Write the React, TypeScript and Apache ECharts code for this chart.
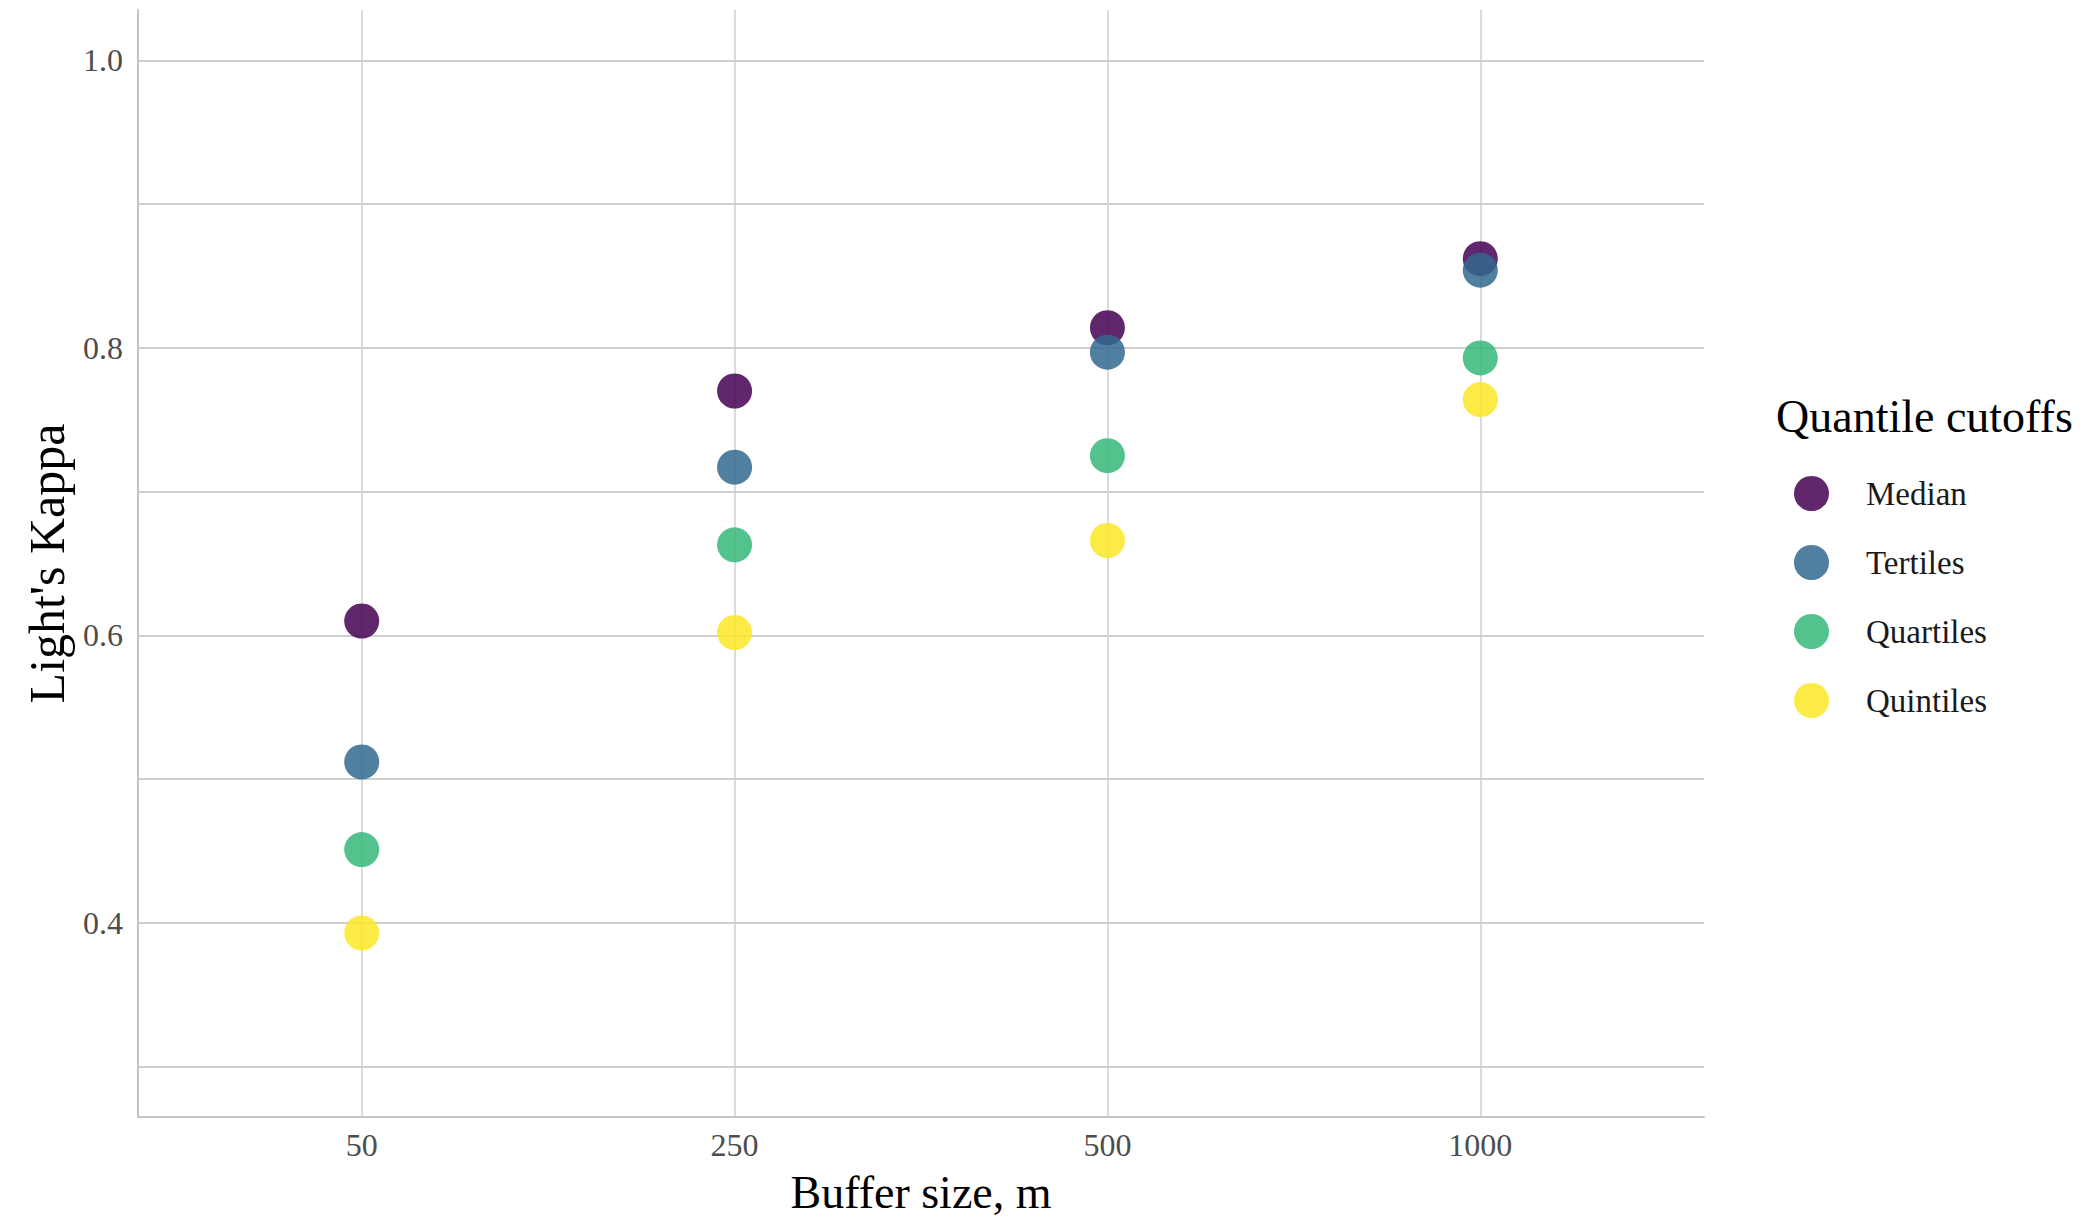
import React, { useEffect, useRef } from "react";
import * as echarts from "echarts";

const categories = ["50", "250", "500", "1000"];
const seriesNames = ["Median", "Tertiles", "Quartiles", "Quintiles"];
const median = [0.61, 0.77, 0.814, 0.862];
const tertiles = [0.512, 0.717, 0.797, 0.854];
const quartiles = [0.451, 0.663, 0.725, 0.793];
const quintiles = [0.393, 0.602, 0.666, 0.764];
const colors = ["#440154", "#31688E", "#35B779", "#FDE725"];
const yLabelValues = [0.4, 0.6, 0.8, 1.0];
const yGridValues = [0.3, 0.4, 0.5, 0.6, 0.7, 0.8, 0.9, 1.0];
const xTickValues = [0, 1, 2, 3];

const FONT = "Liberation Serif";

export default function App() {
  const ref = useRef<HTMLDivElement>(null);
  useEffect(() => {
    if (!ref.current) return;
    const chart = echarts.init(ref.current, null, { renderer: "svg" });
    const allData = [median, tertiles, quartiles, quintiles];
    chart.setOption({
      animation: false,
      backgroundColor: "#ffffff",
      textStyle: { fontFamily: FONT },
      title: {
        text: "Quantile cutoffs",
        left: 1771,
        top: 388,
        textStyle: { fontFamily: FONT, fontSize: 46, fontWeight: "normal", color: "#000000" },
      },
      legend: {
        orient: "vertical",
        left: 1789,
        top: 471,
        itemWidth: 35,
        itemHeight: 35,
        itemGap: 34,
        icon: "circle",
        data: seriesNames,
        textStyle: { fontFamily: FONT, fontSize: 33, color: "#1a1a1a", padding: [0, 0, 0, 32] },
      },
      grid: { left: 138, right: 396, top: 10, bottom: 108, containLabel: false },
      xAxis: {
        type: "value",
        min: -0.6,
        max: 3.6,
        name: "Buffer size, m",
        nameLocation: "middle",
        nameGap: 52,
        nameTextStyle: { fontFamily: FONT, fontSize: 46, color: "#000000" },
        axisLine: { show: true, onZero: false, lineStyle: { color: "#c4c4c4", width: 2 } },
        axisTick: { show: false, customValues: xTickValues },
        axisLabel: {
          customValues: xTickValues,
          formatter: (v: number) => categories[Math.round(v)] ?? "",
          fontFamily: FONT,
          fontSize: 32,
          color: "#4d4d4d",
          margin: 12,
        },
        splitLine: { show: true, lineStyle: { color: "#cfcfcf", width: 1.5 } },
      },
      yAxis: {
        type: "value",
        min: 0.265,
        max: 1.035,
        name: "Light's Kappa",
        nameLocation: "middle",
        nameGap: 60,
        nameTextStyle: { fontFamily: FONT, fontSize: 50, color: "#000000" },
        axisLine: { show: true, onZero: false, lineStyle: { color: "#c4c4c4", width: 2 } },
        axisTick: { show: false, customValues: yGridValues },
        axisLabel: {
          customValues: yLabelValues,
          formatter: (v: number) => v.toFixed(1),
          fontFamily: FONT,
          fontSize: 32,
          color: "#4d4d4d",
          margin: 15,
        },
        splitLine: { show: true, lineStyle: { color: "#cfcfcf", width: 2 } },
      },
      series: seriesNames.map((name, si) => ({
        name,
        type: "scatter",
        symbol: "circle",
        symbolSize: 35,
        itemStyle: { color: colors[si], opacity: 0.85 },
        data: allData[si].map((v, i) => [i, v]),
      })),
    });
    return () => chart.dispose();
  }, []);
  return (
    <div
      ref={ref}
      style={{ position: "fixed", left: 0, top: 0, width: 2100, height: 1225, background: "#fff" }}
    />
  );
}
